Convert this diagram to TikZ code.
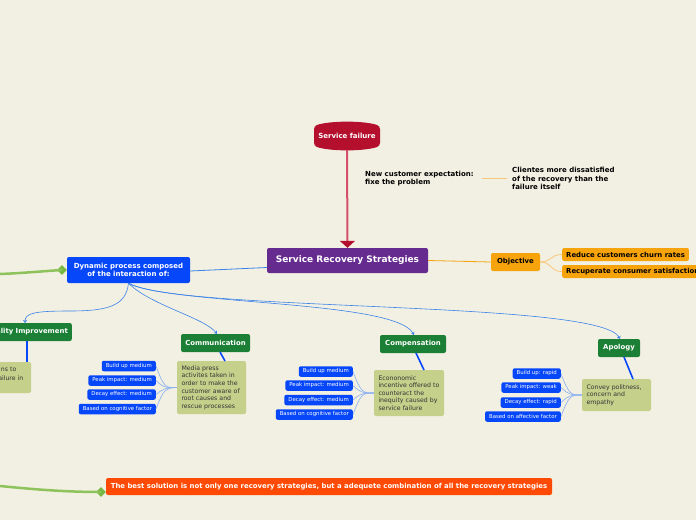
\documentclass[tikz,border=0pt]{standalone}
\usepackage{fontspec}
\setmainfont{DejaVu Sans}
\usetikzlibrary{arrows.meta,shapes.geometric}
\definecolor{bg}{HTML}{F2F0E3}
\definecolor{purp}{HTML}{662B8F}
\definecolor{bluen}{HTML}{0747FA}
\definecolor{bluel}{HTML}{3B82E8}
\definecolor{bluelight}{HTML}{8AAFF0}
\definecolor{greenn}{HTML}{1B8035}
\definecolor{olive}{HTML}{C5D08B}
\definecolor{orn}{HTML}{F7A30C}
\definecolor{ornl}{HTML}{F9C77A}
\definecolor{sfred}{HTML}{B50F2E}
\definecolor{redline}{HTML}{D4506A}
\definecolor{redorn}{HTML}{FF4A05}
\definecolor{greenl}{HTML}{8DC35A}
\definecolor{greend}{HTML}{77B843}
\definecolor{darktext}{HTML}{333333}
\begin{document}
\begin{tikzpicture}[x=1pt,y=-1pt,
  base/.style={rounded corners=2pt, inner sep=0pt, align=center},
  mainn/.style={base, fill=purp, text=white, font=\bfseries\fontsize{9}{10}\selectfont, minimum width=161pt, minimum height=25pt},
  bluebig/.style={base, fill=bluen, text=white, font=\bfseries\fontsize{7}{8}\selectfont},
  greennode/.style={base, fill=greenn, text=white, font=\bfseries\fontsize{6.9}{8}\selectfont, minimum height=18pt},
  olivebox/.style={base, fill=olive, text=darktext, align=left, inner xsep=4.5pt, font=\fontsize{6.2}{7.6}\selectfont},
  smalln/.style={base, fill=bluen, text=white, font=\fontsize{5.4}{6}\selectfont, minimum height=10.5pt, inner xsep=4pt, anchor=east},
  ornnode/.style={base, fill=orn, text=black, font=\bfseries\fontsize{6.9}{8}\selectfont, minimum height=13pt, inner xsep=4pt},
  plaintext/.style={inner sep=0pt, align=left, font=\bfseries\fontsize{7}{8.7}\selectfont},
  dia/.style={diamond, fill=greend, inner sep=0pt, minimum size=10pt},
  link/.style={bluel, line width=0.6pt, -{Stealth[length=3pt,width=4pt]}},
  stem/.style={bluen, line width=1.6pt},
  sub/.style={bluelight, line width=0.6pt},
  ornsub/.style={ornl, line width=0.8pt}
]
\fill[bg] (0,0) rectangle (696,520);
\useasboundingbox (0,0) rectangle (696,520);

% service failure
\fill[sfred, rounded corners=3pt] (314,126) .. controls (330,120.5) and (364,120.5) .. (380,126) -- (380,146) .. controls (364,151.5) and (330,151.5) .. (314,146) -- cycle;
\node[inner sep=0pt, text=white, font=\bfseries\fontsize{7}{8}\selectfont] (sf) at (347,136) {Service failure};
\node[mainn] (srs) at (347.5,260.5) {Service Recovery Strategies};
\coordinate (sfb) at (347,150);
\draw[redline, line width=2pt, -{Triangle[width=15pt,length=7pt,color=sfred]}] (sfb) -- (srs.north);

\node[plaintext, anchor=west] (exp) at (365,178.5) {New customer expectation:\\fixe the problem};
\node[plaintext, anchor=west] (cl) at (512,178.5) {Clientes more dissatisfied\\of the recovery than the\\failure itself};
\draw[ornl, line width=1pt, shorten <=8pt, shorten >=5pt] (exp.east) -- (cl.west);

% objective
\node[ornnode, minimum width=49pt, minimum height=18pt] (obj) at (515.5,262) {Objective};
\draw[orn, line width=0.8pt] (srs.east) -- (obj.west);
\node[ornnode, anchor=west] (r1) at (562,254.5) {Reduce customers churn rates};
\node[ornnode, anchor=west] (r2) at (562,271.5) {Recuperate consumer satisfaction};
\draw[ornsub] (obj.east) .. controls (552,262) and (550,254.5) .. (r1.west);
\draw[ornsub] (obj.east) .. controls (552,262) and (550,271.5) .. (r2.west);

% dynamic
\node[bluebig, minimum width=123pt, minimum height=26pt] (dyn) at (128.5,270) {Dynamic process composed\\of the interaction of:};
\draw[bluel, line width=0.8pt] ([yshift=-7pt]srs.west) -- ([yshift=-1pt]dyn.east);
\node[dia] (d1) at (62,270) {};
\coordinate (g1) at (0,274);
\draw[greenl, line width=2.5pt] (g1) .. controls (25,273) and (45,271) .. (d1.center);

% children
\node[greennode, anchor=east, inner xsep=4pt] (qi) at (72,332) {Quality Improvement};
\node[greennode, minimum width=69pt] (comm) at (215.5,343) {Communication};
\node[greennode, minimum width=66pt] (comp) at (413,344) {Compensation};
\node[greennode, minimum width=42pt] (apo) at (619,348) {Apology};

\draw[link] (dyn.south) .. controls (126,305) and (110,311) .. (70,311) .. controls (35,311) and (25,313) .. (25,323);
\draw[link] (dyn.south) .. controls (150,305) and (205,318) .. (217,334);
\draw[link] (dyn.south) .. controls (170,305) and (395,300) .. (414,335);
\draw[link] (dyn.south) .. controls (180,312) and (600,300) .. (620,339);

% quality box
\fill[olive, rounded corners=2pt] (-10,362) rectangle (31,393);
\node[inner sep=0pt, anchor=east, text=darktext, font=\fontsize{6.2}{7}\selectfont] (qa) at (16.5,369.5) {ns to};
\node[inner sep=0pt, anchor=east, text=darktext, font=\fontsize{6.2}{7}\selectfont] (qb) at (23.5,378) {ailure in};
\coordinate (qtop) at (27,362);
\draw[stem] (27,341) -- (qtop);

% communication
\node[olivebox, minimum width=69pt, minimum height=53pt, text width=60pt] (cbox) at (211.5,387.5) {\mbox{Media press}\\\mbox{activites taken in}\\\mbox{order to make the}\\\mbox{customer aware of}\\\mbox{root causes and}\\\mbox{rescue processes}};
\draw[stem] (220,352) -- (225,361);
\node[smalln] (c1) at (156,366) {Build up medium};
\node[smalln] (c2) at (156,380.5) {Peak impact: medium};
\node[smalln] (c3) at (156,394.5) {Decay effect: medium};
\node[smalln] (c4) at (156,409) {Based on cognitive factor};
\foreach \n in {c1,c2,c3,c4}
  \draw[sub] (cbox.west) .. controls (166,388) and (164,388) .. (\n.east);

% compensation
\node[olivebox, minimum width=70pt, minimum height=46pt, text width=61pt] (pbox) at (409,393) {\mbox{Econonomic}\\\mbox{incentive offered to}\\\mbox{counteract the}\\\mbox{inequity caused by}\\\mbox{service failure}};
\draw[stem] (416,353) -- (424,370);
\node[smalln] (p1) at (353,371.5) {Build up medium};
\node[smalln] (p2) at (353,385.5) {Peak impact: medium};
\node[smalln] (p3) at (353,400) {Decay effect: medium};
\node[smalln] (p4) at (353,414.5) {Based on cognitive factor};
\foreach \n in {p1,p2,p3,p4}
  \draw[sub] (pbox.west) .. controls (363,393) and (361,393) .. (\n.east);

% apology
\node[olivebox, minimum width=69pt, minimum height=32pt, text width=60pt] (abox) at (616.5,395) {\mbox{Convey politness,}\\\mbox{concern and}\\\mbox{empathy}};
\draw[stem] (624,357) -- (633,379);
\node[smalln] (a1) at (561,373.5) {Build up: rapid};
\node[smalln] (a2) at (561,387.5) {Peak impact: weak};
\node[smalln] (a3) at (561,402.5) {Decay effect: rapid};
\node[smalln] (a4) at (561,416.5) {Based on affective factor};
\foreach \n in {a1,a2,a3,a4}
  \draw[sub] (abox.west) .. controls (571,395) and (569,395) .. (\n.east);

% bottom
\node[base, fill=redorn, text=white, font=\bfseries\fontsize{6.9}{8}\selectfont, minimum width=446pt, minimum height=17pt] (best) at (329,486.5) {The best solution is not only one recovery strategies, but a adequete combination of all the recovery strategies};
\node[dia] (d2) at (101,492) {};
\coordinate (g2) at (0,486);
\draw[greenl, line width=2.5pt] (g2) .. controls (40,490) and (70,492) .. (d2.center);
\end{tikzpicture}
\end{document}
